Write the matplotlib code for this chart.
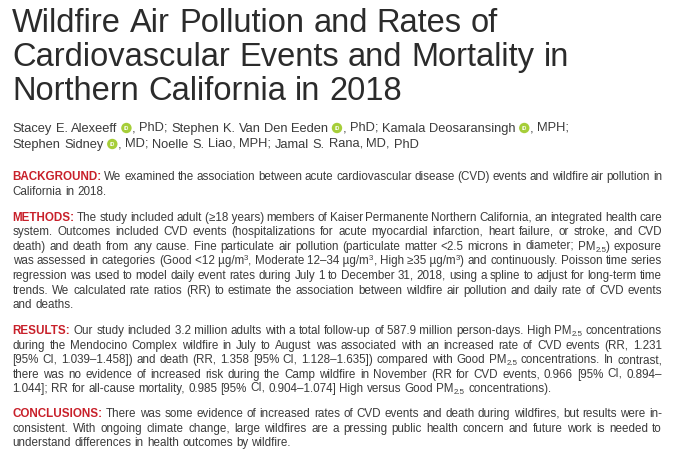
import re
import math
import matplotlib
matplotlib.use("Agg")
import matplotlib.pyplot as plt
from matplotlib import font_manager
from matplotlib.patches import Circle
from matplotlib.backends.backend_agg import get_hinting_flag

W, H = 677, 463

# text content, line by line as in the reference
# "~" = fixed space, "_{..}" subscript, "^{..}" superscript, "@" = ORCID badge
TITLE_LINES = [
    "Wildfire Air Pollution and Rates of",
    "Cardiovascular Events and Mortality in",
    "Northern California in 2018",
]
AUTHOR_LINES = [
    "Stacey E. Alexeeff @, PhD; Stephen K. Van Den Eeden @, PhD; Kamala Deosaransingh @, MPH;",
    "Stephen Sidney @, MD; Noelle S. Liao, MPH; Jamal S. Rana, MD, PhD",
]
SECTION_LABELS = ["BACKGROUND:", "METHODS:", "RESULTS:", "CONCLUSIONS:"]
BACKGROUND_LINES = [
    "We examined the association between acute cardiovascular disease (CVD) events and wildfire air pollution in",
    "California in 2018.",
]
METHODS_LINES = [
    "The study included adult (\u226518~years) members of Kaiser Permanente Northern California, an integrated health care",
    "system. Outcomes included CVD events (hospitalizations for acute myocardial infarction, heart failure, or stroke, and CVD",
    "death) and death from any cause. Fine particulate air pollution (particulate matter <2.5 microns in diameter; PM_{2.5}) exposure",
    "was assessed in categories (Good <12~\u00b5g/m^{3}, Moderate 12\u201334~\u00b5g/m^{3}, High \u226535~\u00b5g/m^{3}) and continuously. Poisson time series",
    "regression was used to model daily event rates during July 1 to December 31, 2018, using a spline to adjust for long-term time",
    "trends. We calculated rate ratios (RR) to estimate the association between wildfire air pollution and daily rate of CVD events",
    "and deaths.",
]
RESULTS_LINES = [
    "Our study included 3.2~million adults with a total follow-up of 587.9~million person-days. High PM_{2.5} concentrations",
    "during the Mendocino Complex wildfire in July to August was associated with an increased rate of CVD events (RR, 1.231",
    "[95% CI, 1.039\u20131.458]) and death (RR, 1.358 [95% CI, 1.128\u20131.635]) compared with Good PM_{2.5} concentrations. In contrast,",
    "there was no evidence of increased risk during the Camp wildfire in November (RR for CVD events, 0.966 [95% CI, 0.894\u2013",
    "1.044]; RR for all-cause mortality, 0.985 [95% CI, 0.904\u20131.074] High versus Good PM_{2.5} concentrations).",
]
CONCLUSIONS_LINES = [
    "There was some evidence of increased rates of CVD events and death during wildfires, but results were in-",
    "consistent. With ongoing climate change, large wildfires are a pressing public health concern and future work is needed to",
    "understand differences in health outcomes by wildfire.",
]
SECTIONS = [BACKGROUND_LINES, METHODS_LINES, RESULTS_LINES, CONCLUSIONS_LINES]

# layout (pixels, measured on the reference)
LEFT = 12.6
RIGHT = 662.0
TITLE_BASE = [32, 66, 100]
AUTHOR_BASE = [132, 148]
SECTION_START = [180.2, 220.6, 334.0, 417.2]
LINE_STEP = 14.6
BADGE_R = 5.2

TITLE_COLOR = "#2b2b2b"
TEXT_COLOR = "#3b3b3b"
LABEL_COLOR = "#c8202a"
ORCID_GREEN = "#a6ce39"


def pick(names, fallback="DejaVu Sans"):
    have = {f.name for f in font_manager.fontManager.ttflist}
    for n in names:
        if n in have:
            return n
    return fallback


title_font = pick(["Liberation Sans", "Roboto"])
author_font = pick(["Liberation Sans", "Roboto"])
body_font = pick(["Liberation Sans Narrow", "Liberation Sans"])

fig = plt.figure(figsize=(W / 100, H / 100), dpi=100)
fig.patch.set_facecolor("white")
ax = fig.add_axes([0, 0, 1, 1])
ax.set_xlim(0, W)
ax.set_ylim(H, 0)
ax.axis("off")
renderer = fig.canvas.get_renderer()

_cache = {}


def measure(s, style):
    key = (s, style["family"], style["fontsize"], style.get("fontweight", "normal"))
    if key not in _cache:
        t = ax.text(0, 0, s, **style)
        _cache[key] = t.get_window_extent(renderer).width
        t.remove()
    return _cache[key]


def fit_size(text, family, target):
    return 10 * target / measure(text, dict(family=family, fontsize=10))


def gap_width(style):
    return measure("x x", style) - measure("xx", style)


def baseline_shift(s, prop, y):
    # Agg snaps each string's bitmap to whole pixels from its own ink box,
    # which moves the baseline by a pixel from word to word; predict it
    try:
        font = renderer._prepare_font(prop)
        font.set_text(s, 0, flags=get_hinting_flag())
        d = font.get_descent() / 64
        ymax = font.get_width_height()[1] / 64 - d
        return round(y + d) - y - math.floor(ymax + d) + math.floor(ymax)
    except Exception:
        return 0


def put(x, y, s, style):
    t = ax.text(x, y, s, va="baseline", ha="left", **style)
    prop = t.get_fontproperties()
    yb = y
    for _ in range(3):
        sh = baseline_shift(s, prop, yb)
        if yb + sh == y:
            break
        yb = y - sh
    t.set_y(yb)
    return t


def draw_badge(x, y):
    cy = y - 4.0
    ax.add_patch(Circle((x + BADGE_R, cy), BADGE_R, color=ORCID_GREEN, lw=0))
    ax.text(x + BADGE_R, cy + 0.3, "iD", color="white", fontsize=3.8,
            fontweight="bold", family=author_font, ha="center", va="center")


def word_pieces(word, style):
    pieces = []
    if word.startswith("@"):
        pieces.append(("badge", "", style, 0, 2 * BADGE_R + 0.4))
        word = word[1:]
    for part in re.split(r"([_^]\{[^}]*\})", word):
        if not part:
            continue
        st, dy = style, 0
        if part[:2] in ("_{", "^{"):
            st = dict(style, fontsize=style["fontsize"] * 0.68)
            dy = 2 if part[0] == "_" else -4
            part = part[2:-1]
        part = part.replace("~", " ")
        pieces.append(("text", part, st, dy, measure(part, st)))
    return pieces


def draw_line(y, tokens, space, justify=False, left=LEFT, right=RIGHT):
    words = [word_pieces(w, st) for w, st in tokens]
    widths = [sum(p[4] for p in ps) for ps in words]
    gap = space
    if justify and len(words) > 1:
        gap = (right - left - sum(widths)) / (len(words) - 1)
    x = left
    for ps, ww in zip(words, widths):
        px = x
        for kind, txt, st, dy, w in ps:
            if kind == "badge":
                draw_badge(px, y)
            else:
                put(px, y + dy, txt, st)
            px += w
        x += ww + gap


title_size = fit_size(TITLE_LINES[1], title_font, 559)
author_size = fit_size("Stacey E. Alexeeff", author_font, 104.6)
body_size = fit_size("understand differences in health outcomes by wildfire.", body_font, 279.6)

title_style = dict(family=title_font, fontsize=title_size, color=TITLE_COLOR)
author_style = dict(family=author_font, fontsize=author_size, color=TEXT_COLOR)
body_style = dict(family=body_font, fontsize=body_size, color=TEXT_COLOR)
label_style = dict(family=body_font, fontweight="bold", fontsize=body_size,
                   color=LABEL_COLOR)

# title
title_space = gap_width(title_style)
for line, y in zip(TITLE_LINES, TITLE_BASE):
    draw_line(y, [(w, title_style) for w in line.split(" ")], title_space,
              left=LEFT - 0.5)

# authors with ORCID badges
author_space = gap_width(author_style)
for line, y in zip(AUTHOR_LINES, AUTHOR_BASE):
    draw_line(y, [(w, author_style) for w in line.split(" ")], author_space)

# abstract paragraphs, justified except the last line
body_space = gap_width(body_style)
for label, lines, y0 in zip(SECTION_LABELS, SECTIONS, SECTION_START):
    for i, line in enumerate(lines):
        y = round(y0 + i * LINE_STEP)
        tokens = [(w, body_style) for w in line.split(" ")]
        if i == 0:
            tokens = [(label, label_style)] + tokens
        draw_line(y, tokens, body_space, justify=i < len(lines) - 1)

fig.savefig("out.png", dpi=100, facecolor="white")
